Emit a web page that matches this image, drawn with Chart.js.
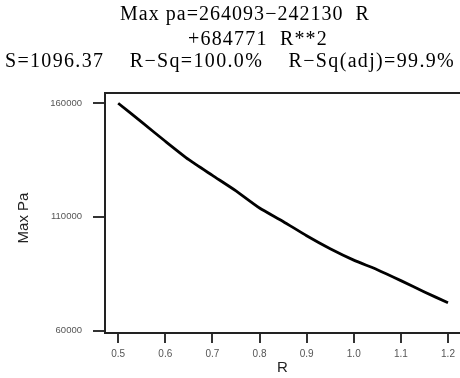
<!DOCTYPE html>
<html>
<head>
<meta charset="utf-8">
<script src="https://cdn.jsdelivr.net/npm/chart.js@4.4.0/dist/chart.umd.min.js"></script>
<style>
  html, body { margin: 0; padding: 0; background: #fff; }
  #wrap { width: 460px; height: 378px; }
</style>
</head>
<body>
<div id="wrap"><canvas id="fitChart"></canvas></div>
<script>
  // values
  const rValues = [0.5, 0.55, 0.6, 0.65, 0.7, 0.75, 0.8, 0.85, 0.9, 0.95, 1.0, 1.05, 1.1, 1.15, 1.2];
  const maxPa = [159900, 151600, 143200, 135100, 128200, 121400, 113900, 108000, 101700, 96000, 91000, 86800, 82000, 77000, 72300];
  const xTicks = [0.5, 0.6, 0.7, 0.8, 0.9, 1.0, 1.1, 1.2];
  const yTicks = [60000, 110000, 160000];
  const titleLines = ['Max pa=264093\u2212242130  R', '+684771  R**2', 'S=1096.37    R\u2212Sq=100.0%    R\u2212Sq(adj)=99.9%'];
  const yTitle = 'Max Pa';

  const headerPlugin = {
    id: 'header',
    afterDraw(chart) {
      const c = chart.ctx;
      // [centre x, centre y, width in the reference]
      const pos = [[245, 15, 250], [258, 40, 140], [230, 62, 450]];
      c.save();
      c.fillStyle = '#000';
      c.font = '20px "Liberation Serif", serif';
      c.textAlign = 'center';
      c.textBaseline = 'middle';
      titleLines.forEach((t, i) => {
        c.letterSpacing = '0px';
        const w = c.measureText(t).width;
        c.letterSpacing = ((pos[i][2] - w) / t.length).toFixed(2) + 'px';
        c.fillText(t, pos[i][0], pos[i][1]);
      });
      c.letterSpacing = '0px';

      // y axis title
      c.fillStyle = '#222';
      c.font = '15px Arial, "Liberation Sans", sans-serif';
      c.translate(24, 218);
      c.rotate(-Math.PI / 2);
      c.fillText(yTitle, 0, 0);
      c.setTransform(1, 0, 0, 1, 0, 0);

      // top edge of the plot box
      const a = chart.chartArea;
      c.strokeStyle = '#222';
      c.lineWidth = 2;
      c.beginPath();
      c.moveTo(a.left, a.top);
      c.lineTo(a.right, a.top);
      c.stroke();
      c.restore();
    }
  };

  const ctx = document.getElementById('fitChart').getContext('2d');
  new Chart(ctx, {
    type: 'line',
    data: {
      datasets: [{
        data: rValues.map((r, i) => ({ x: r, y: maxPa[i] })),
        borderColor: '#000',
        borderWidth: 2.8,
        pointRadius: 0,
        tension: 0.2,
        fill: false
      }]
    },
    plugins: [headerPlugin],
    options: {
      responsive: true,
      maintainAspectRatio: false,
      animation: false,
      layout: { padding: { top: 93, right: 0, left: 0, bottom: 0 } },
      plugins: { legend: { display: false }, tooltip: { enabled: false } },
      scales: {
        x: {
          type: 'linear',
          min: 0.472,
          max: 1.2255,
          afterFit(s) { s.height = 45; },
          afterBuildTicks(s) { s.ticks = xTicks.map(v => ({ value: v })); },
          grid: { drawOnChartArea: false, tickLength: 10, color: '#333', lineWidth: 2 },
          border: { color: '#222', width: 2 },
          ticks: {
            padding: 5,
            color: '#555',
            font: { family: 'Arial, "Liberation Sans", sans-serif', size: 10 },
            callback: v => Number(v).toFixed(1)
          },
          title: { display: true, text: 'R', color: '#222', padding: { top: 0, bottom: 1 },
            font: { family: 'Arial, "Liberation Sans", sans-serif', size: 15 } }
        },
        y: {
          min: 59000,
          max: 164400,
          afterFit(s) { s.width = 105; },
          afterBuildTicks(s) { s.ticks = yTicks.map(v => ({ value: v })); },
          grid: { drawOnChartArea: false, tickLength: 12, color: '#333', lineWidth: 2 },
          border: { color: '#222', width: 2 },
          ticks: {
            padding: 11,
            color: '#555',
            font: { family: 'Arial, "Liberation Sans", sans-serif', size: 9.5 },
            callback: v => String(v)
          },
          title: { display: false, text: yTitle }
        }
      }
    }
  });
</script>
</body>
</html>
